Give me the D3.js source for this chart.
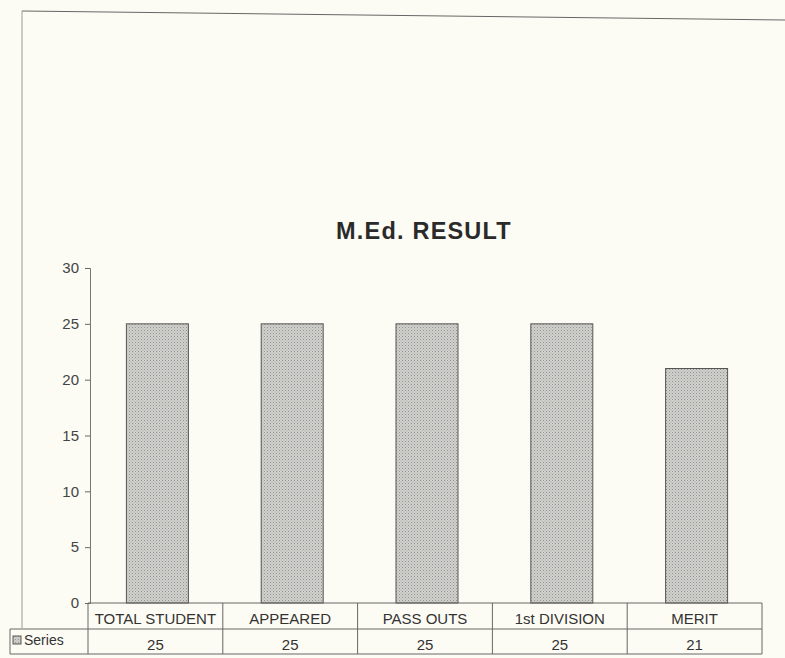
<!DOCTYPE html>
<html>
<head>
<meta charset="utf-8">
<script src="https://cdn.jsdelivr.net/npm/d3@7"></script>
<style>
  html, body { margin: 0; padding: 0; background: #fdfcf4; }
  svg { display: block; }
  text { font-family: "Liberation Sans", Arial, sans-serif; }
</style>
</head>
<body>
<svg id="chart" width="785" height="658"></svg>
<script>
const categories = ["TOTAL STUDENT", "APPEARED", "PASS OUTS", "1st DIVISION", "MERIT"];
const values = [25, 25, 25, 25, 21];
const seriesName = "Series";
const yTicks = [0, 5, 10, 15, 20, 25, 30];
const title = "M.Ed. RESULT";

const svg = d3.select("#chart");
const W = 785, H = 658;
svg.append("rect").attr("width", W).attr("height", H).attr("fill", "#fdfcf4");

const plot = { left: 88, right: 762, top: 268, bottom: 603 };
const x = d3.scaleBand().domain(categories).range([plot.left, plot.right]).paddingInner(0).paddingOuter(0);
const y = d3.scaleLinear().domain([0, 30]).range([plot.bottom, plot.top]);

// outer frame (partial, as in scan)
svg.append("line").attr("x1", 22).attr("y1", 11).attr("x2", 785).attr("y2", 20)
  .attr("stroke", "#666").attr("stroke-width", 1.2);
svg.append("line").attr("x1", 22).attr("y1", 11).attr("x2", 22).attr("y2", 628)
  .attr("stroke", "#999").attr("stroke-width", 1);

// title
svg.append("text").attr("x", 424).attr("y", 239).attr("text-anchor", "middle")
  .attr("font-size", 23.5).attr("font-weight", "bold").attr("letter-spacing", 1.2)
  .attr("fill", "#2a2a2a").text(title);

// dotted pattern for bars
const defs = svg.append("defs");
const pat = defs.append("pattern").attr("id", "dots").attr("patternUnits", "userSpaceOnUse")
  .attr("width", 3).attr("height", 3);
pat.append("rect").attr("width", 3).attr("height", 3).attr("fill", "#d0d0cc");
pat.append("rect").attr("x", 0).attr("y", 0).attr("width", 1).attr("height", 1).attr("fill", "#929290");
pat.append("rect").attr("x", 1.5).attr("y", 1.5).attr("width", 1).attr("height", 1).attr("fill", "#a8a8a4");

// y axis
const yAxis = d3.axisLeft(y).tickValues(yTicks).tickSize(5).tickPadding(6);
const gy = svg.append("g").attr("transform", `translate(${plot.left + 2},0)`).call(yAxis);
gy.select(".domain").attr("stroke", "#777");
gy.selectAll(".tick line").attr("stroke", "#666");
gy.selectAll(".tick text").attr("font-size", 15).attr("fill", "#444")
  .attr("font-family", "Liberation Sans, Arial, sans-serif");

// bars
const barW = 62;
svg.append("g").selectAll("rect").data(values).join("rect")
  .attr("x", (d, i) => x(categories[i]) + x.bandwidth() / 2 - barW / 2 + 2)
  .attr("y", d => y(d))
  .attr("width", barW)
  .attr("height", d => y(0) - y(d))
  .attr("fill", "url(#dots)")
  .attr("stroke", "#555").attr("stroke-width", 1);

// data table
const rowTop = plot.bottom, rowMid = 629, rowBot = 654, tableLeft = 10;
const tg = svg.append("g").attr("stroke", "#666").attr("stroke-width", 1);
tg.append("line").attr("x1", plot.left).attr("x2", plot.right).attr("y1", rowTop).attr("y2", rowTop);
tg.append("line").attr("x1", tableLeft).attr("x2", plot.right).attr("y1", rowMid).attr("y2", rowMid);
tg.append("line").attr("x1", tableLeft).attr("x2", plot.right).attr("y1", rowBot).attr("y2", rowBot);
tg.append("line").attr("x1", tableLeft).attr("x2", tableLeft).attr("y1", rowMid).attr("y2", rowBot);
const bounds = categories.map(c => x(c)).concat([plot.right]);
tg.selectAll("line.v").data(bounds).join("line").attr("class", "v")
  .attr("x1", d => d).attr("x2", d => d).attr("y1", rowTop).attr("y2", rowBot);

svg.append("g").selectAll("text").data(categories).join("text")
  .attr("x", d => x(d) + x.bandwidth() / 2).attr("y", rowTop + 21)
  .attr("text-anchor", "middle").attr("font-size", 15).attr("fill", "#333").text(d => d);

svg.append("g").selectAll("text").data(values).join("text")
  .attr("x", (d, i) => x(categories[i]) + x.bandwidth() / 2).attr("y", rowMid + 21)
  .attr("text-anchor", "middle").attr("font-size", 15).attr("fill", "#333").text(d => d);

// legend key + series name
svg.append("rect").attr("x", 13).attr("y", rowMid + 7).attr("width", 8).attr("height", 8)
  .attr("fill", "url(#dots)").attr("stroke", "#555");
svg.append("text").attr("x", 24).attr("y", rowMid + 16).attr("font-size", 14)
  .attr("fill", "#333").text(seriesName);
</script>
</body>
</html>
